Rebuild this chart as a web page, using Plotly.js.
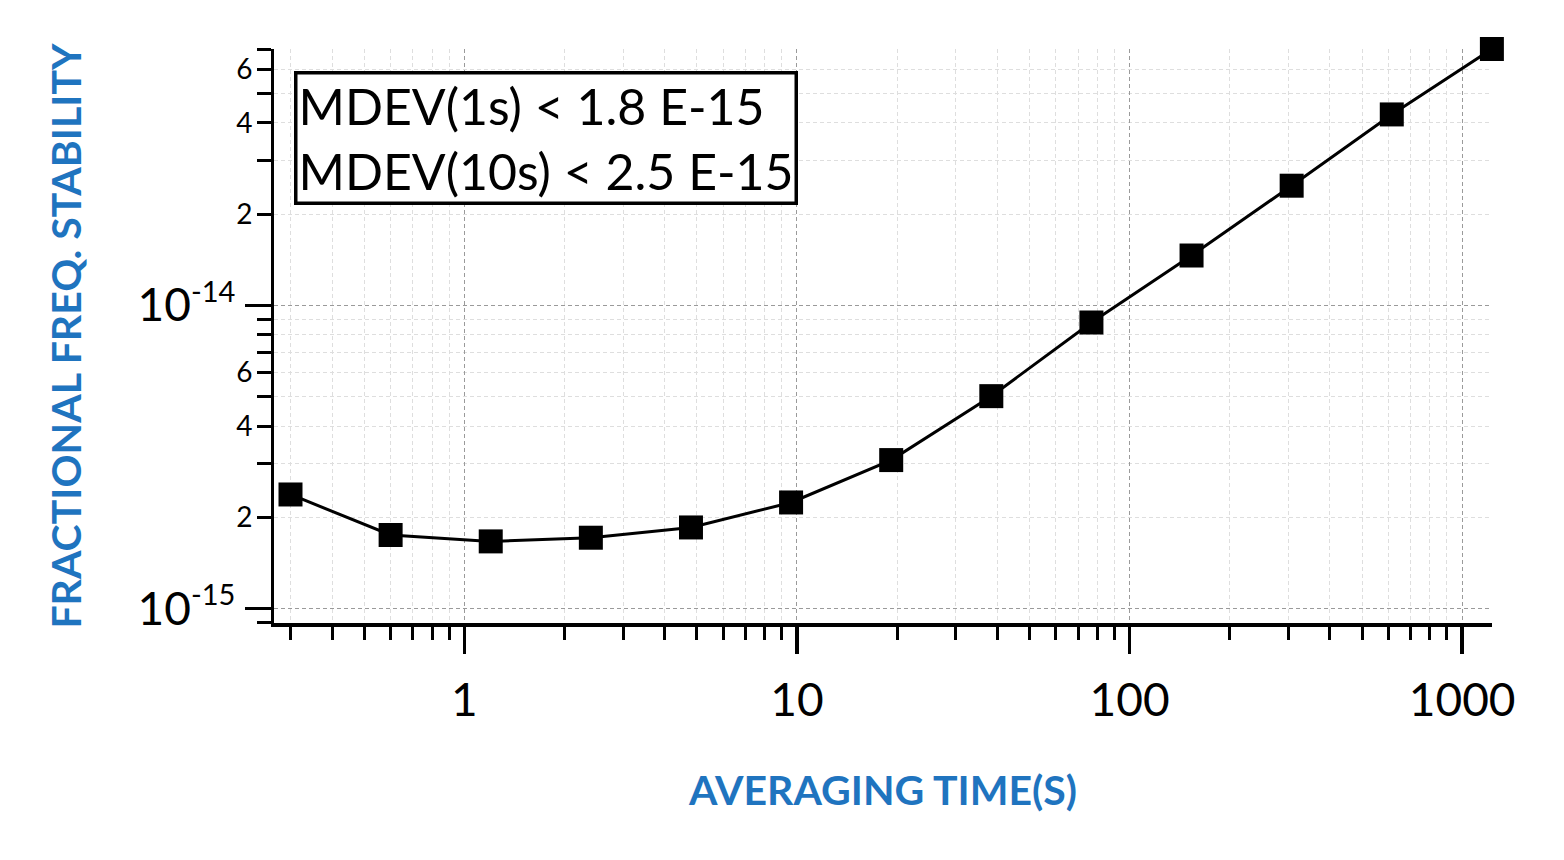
<!DOCTYPE html>
<html>
<head>
<meta charset="utf-8">
<script src="https://cdn.plot.ly/plotly-3.0.1.min.js"></script>
<style>
html,body{margin:0;padding:0;background:#fff;}
#chart{width:1564px;height:860px;}
</style>
</head>
<body>
<div id="chart"></div>
<script>
// Data
const averagingTime = [0.3, 0.6, 1.2, 2.4, 4.8, 9.6, 19.2, 38.4, 76.8, 153.6, 307.2, 614.4, 1228.8];
const stability = [2.38e-15, 1.75e-15, 1.667e-15, 1.714e-15, 1.853e-15, 2.24e-15, 3.09e-15, 5.02e-15, 8.78e-15, 1.46e-14, 2.48e-14, 4.26e-14, 7.0e-14];

const xTickVals = [1, 10, 100, 1000];
const xTickText = ['1', '10', '100', '1000'];
const yMajorVals = [1e-15, 1e-14];
const yMajorExp = ['-15', '-14'];
const yMinorLabelVals = [2e-15, 4e-15, 6e-15, 2e-14, 4e-14, 6e-14];
const yMinorLabelText = ['2', '4', '6', '2', '4', '6'];

const boxLines = ['MDEV(1s) < 1.8 E-15', 'MDEV(10s) < 2.5 E-15'];
const xTitle = 'AVERAGING TIME(S)';
const yTitle = 'FRACTIONAL FREQ. STABILITY';

const FONT = 'Lato, "Open Sans", sans-serif';
const BLUE = '#1f74bf';
const xRange = [-0.5725, 3.0898];
const yRange = [-15.0471, -13.1549];

const yMajorText = yMajorExp.map(e => '10<sup><span style="font-size:29px">' + e + '</span></sup>');

const traces = [
  {
    x: averagingTime, y: stability, type: 'scatter', mode: 'lines+markers',
    line: {color: '#000', width: 3},
    marker: {symbol: 'square', size: 24, color: '#000', line: {width: 0}},
    cliponaxis: false, showlegend: false, hoverinfo: 'x+y'
  },
  {
    x: averagingTime, y: stability, yaxis: 'y2', type: 'scatter', mode: 'markers',
    marker: {opacity: 0}, showlegend: false, hoverinfo: 'skip'
  }
];

const layout = {
  width: 1564, height: 860,
  margin: {l: 274, r: 72, t: 49, b: 237},
  paper_bgcolor: '#fff', plot_bgcolor: '#fff',
  font: {family: FONT, color: '#000'},
  showlegend: false,
  xaxis: {
    type: 'log', range: xRange,
    tickmode: 'array', tickvals: xTickVals, ticktext: xTickText,
    ticks: 'outside', ticklen: 27, tickwidth: 3.5, tickcolor: '#000',
    tickfont: {family: FONT, size: 46, color: '#000'},
    ticklabelstandoff: 7,
    showline: true, linecolor: '#000', linewidth: 3.5,
    showgrid: true, gridcolor: '#9a9a9a', gridwidth: 1, griddash: '4px,3px',
    zeroline: false,
    minor: {dtick: 'D1', ticks: 'outside', ticklen: 13, tickwidth: 3, tickcolor: '#000',
            showgrid: true, gridcolor: '#dedede', gridwidth: 1, griddash: '4px,3px'},
    title: {text: xTitle, standoff: 52,
            font: {family: FONT, size: 41, color: BLUE, weight: 700}}
  },
  yaxis: {
    type: 'log', range: yRange,
    tickmode: 'array', tickvals: yMajorVals, ticktext: yMajorText,
    ticks: 'outside', ticklen: 26, tickwidth: 3.5, tickcolor: '#000',
    tickfont: {family: FONT, size: 46, color: '#000'},
    ticklabelstandoff: 0,
    showline: true, linecolor: '#000', linewidth: 3.5,
    showgrid: true, gridcolor: '#9a9a9a', gridwidth: 1, griddash: '4px,3px',
    zeroline: false,
    minor: {dtick: 'D1', ticks: 'outside', ticklen: 14, tickwidth: 3, tickcolor: '#000',
            showgrid: true, gridcolor: '#dedede', gridwidth: 1, griddash: '4px,3px'},
    title: {text: yTitle, standoff: 44,
            font: {family: FONT, size: 41, color: BLUE, weight: 700}}
  },
  yaxis2: {
    type: 'log', range: yRange, overlaying: 'y', side: 'left', anchor: 'x',
    tickmode: 'array', tickvals: yMinorLabelVals, ticktext: yMinorLabelText,
    ticks: 'outside', ticklen: 14, tickwidth: 3, tickcolor: '#000',
    tickfont: {family: FONT, size: 28, color: '#000'},
    ticklabelstandoff: 1,
    showline: false, showgrid: false, zeroline: false
  },
  annotations: [{
    xref: 'paper', yref: 'paper', x: 0.0167, y: 0.961,
    xanchor: 'left', yanchor: 'top', align: 'left', showarrow: false,
    text: boxLines.join('<br>'),
    font: {family: FONT, size: 50, color: '#000'},
    bgcolor: '#fff', bordercolor: '#000', borderwidth: 3.5, borderpad: 1
  }]
};

Plotly.newPlot('chart', traces, layout, {displayModeBar: false, staticPlot: true});
</script>
</body>
</html>
